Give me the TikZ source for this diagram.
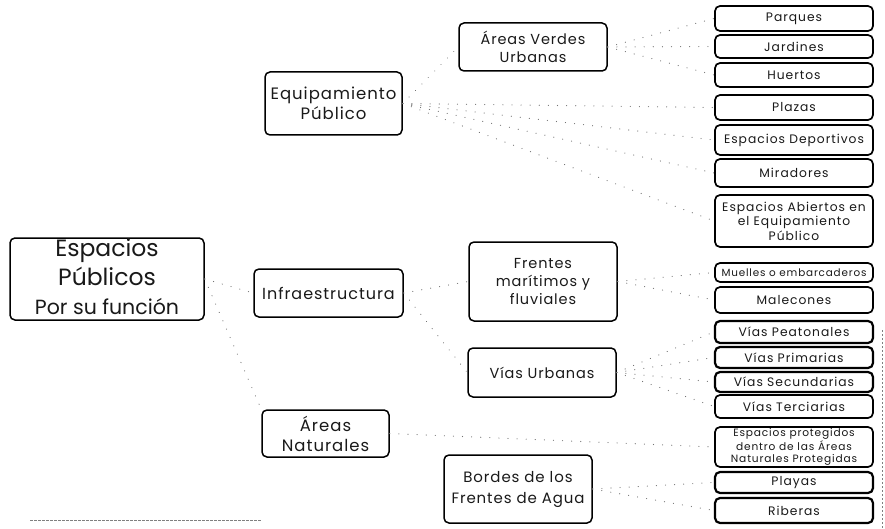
\documentclass[tikz,border=0pt]{standalone}
\usepackage{fontspec}
\setmainfont{Poppins}
\newfontfamily\rfont[LetterSpace=8]{Poppins}
\newfontfamily\mfont[LetterSpace=6]{Poppins}
\begin{document}
\begin{tikzpicture}[x=1pt,y=-1pt,
  box/.style={draw=black, line width=1.5pt, rounded corners=5pt, inner sep=0pt, align=center, text=black!90},
  rbox/.style={box, line width=1.7pt, minimum width=158pt, font=\rfont\fontsize{12.3}{15}\selectfont},
  mbox/.style={box, font=\mfont\fontsize{16.5}{20}\selectfont},
  conn/.style={draw=black!55, line width=1.1pt, line cap=round, dash pattern=on 0.1pt off 9pt},
  scanline/.style={draw=black!50, line width=0.8pt}
]
\useasboundingbox (0,0) rectangle (885,529);

% root
\node[box, minimum width=194pt, minimum height=82pt] (esp) at (107,279) {};
\node[font=\fontsize{23.5}{26}\selectfont, text=black!90, inner sep=0pt] (espt1) at (107,251) {Espacios};
\node[font=\fontsize{23.5}{26}\selectfont, text=black!90, inner sep=0pt] (espt2) at (107,276) {Públicos};
\node[font=\fontsize{20.5}{22}\selectfont, text=black!90, inner sep=0pt] (espt3) at (107,307) {Por su función};

% second level
\node[mbox, minimum width=137pt, minimum height=63pt] (equip) at (333.5,103.5) {Equipamiento\\Público};
\node[mbox, minimum width=149pt, minimum height=48pt, font=\mfont\fontsize{16}{20}\selectfont] (infra) at (328.5,293) {Infraestructura};
\node[mbox, minimum width=127pt, minimum height=47pt] (natur) at (325.5,433.5) {Áreas\\Naturales};

% third level
\node[mbox, minimum width=148pt, minimum height=48pt, font=\mfont\fontsize{14.5}{18}\selectfont] (verdes) at (533,47) {Áreas Verdes\\Urbanas};
\node[mbox, minimum width=148pt, minimum height=79pt, font=\mfont\fontsize{14.5}{18}\selectfont] (frentes) at (543,281.5) {Frentes\\marítimos y\\fluviales};
\node[mbox, minimum width=148pt, minimum height=49pt, font=\mfont\fontsize{14.5}{18}\selectfont] (vias) at (542,372.5) {Vías Urbanas};
\node[mbox, minimum width=148pt, minimum height=68pt, font=\mfont\fontsize{15}{21}\selectfont] (bordes) at (518,489) {Bordes de los\\Frentes de Agua};

% leaves
\node[rbox, minimum height=25pt] (parques) at (794,18.5) {Parques};
\node[rbox, minimum height=23pt] (jardines) at (794,46.5) {Jardines};
\node[rbox, minimum height=24pt] (huertos) at (794,75) {Huertos};
\node[rbox, minimum height=25pt] (plazas) at (794,107.5) {Plazas};
\node[rbox, minimum height=30pt] (deport) at (794,140) {Espacios Deportivos};
\node[rbox, minimum height=28pt] (mirad) at (794,173) {Miradores};
\node[rbox, minimum height=52pt, font=\rfont\fontsize{12.3}{14.5}\selectfont] (abiert) at (794,221) {Espacios Abiertos en\\el Equipamiento\\Público};
\node[rbox, minimum height=19pt, font=\rfont\fontsize{10.4}{12}\selectfont] (muelles) at (794,272.5) {Muelles o embarcaderos};
\node[rbox, minimum height=26pt] (malec) at (794,300) {Malecones};
\node[rbox, minimum height=22pt, line width=2.2pt] (peat) at (794,332) {Vías Peatonales};
\node[rbox, minimum height=21pt, line width=2.2pt] (prim) at (794,357.5) {Vías Primarias};
\node[rbox, minimum height=20pt, line width=2.2pt] (secund) at (794,382) {Vías Secundarias};
\node[rbox, minimum height=23pt] (terc) at (794,406.5) {Vías Terciarias};
\node[rbox, minimum height=40pt, font=\rfont\fontsize{10.6}{12.5}\selectfont] (proteg) at (794,447) {Espacios protegidos\\dentro de las Áreas\\Naturales Protegidas};
\node[rbox, minimum height=21pt, line width=2.2pt] (playas) at (794,482.5) {Playas};
\node[rbox, minimum height=25pt, line width=2.2pt] (riberas) at (794,510.5) {Riberas};

% connectors
\draw[conn] (esp.east) -- (infra.west);
\draw[conn] (esp.east) -- (natur.north west);
\draw[conn] (equip.east) -- (verdes.west);
\draw[conn] (equip.east) -- (plazas.west);
\draw[conn] (equip.east) -- (deport.west);
\draw[conn] (equip.east) -- (mirad.west);
\draw[conn] (equip.east) -- (abiert.west);
\draw[conn] (verdes.east) -- (parques.west);
\draw[conn] (verdes.east) -- (jardines.west);
\draw[conn] (verdes.east) -- (huertos.west);
\draw[conn] (infra.east) -- (frentes.west);
\draw[conn] (infra.east) -- (vias.west);
\draw[conn] (frentes.east) -- (muelles.west);
\draw[conn] (frentes.east) -- (malec.west);
\draw[conn] (vias.east) -- (peat.west);
\draw[conn] (vias.east) -- (prim.west);
\draw[conn] (vias.east) -- (secund.west);
\draw[conn] (vias.east) -- (terc.west);
\draw[conn] (natur.east) -- (proteg.west);
\draw[conn] (bordes.east) -- (playas.west);
\draw[conn] (bordes.east) -- (riberas.west);

% scan artefacts
\coordinate (bl1) at (30,520);
\coordinate (bl2) at (262,520);
\draw[scanline, dash pattern=on 3pt off 1pt] (bl1) -- (bl2);
\coordinate (rv1) at (882,330);
\coordinate (rv2) at (882,529);
\draw[scanline, dash pattern=on 2pt off 2pt] (rv1) -- (rv2);
\end{tikzpicture}
\end{document}
